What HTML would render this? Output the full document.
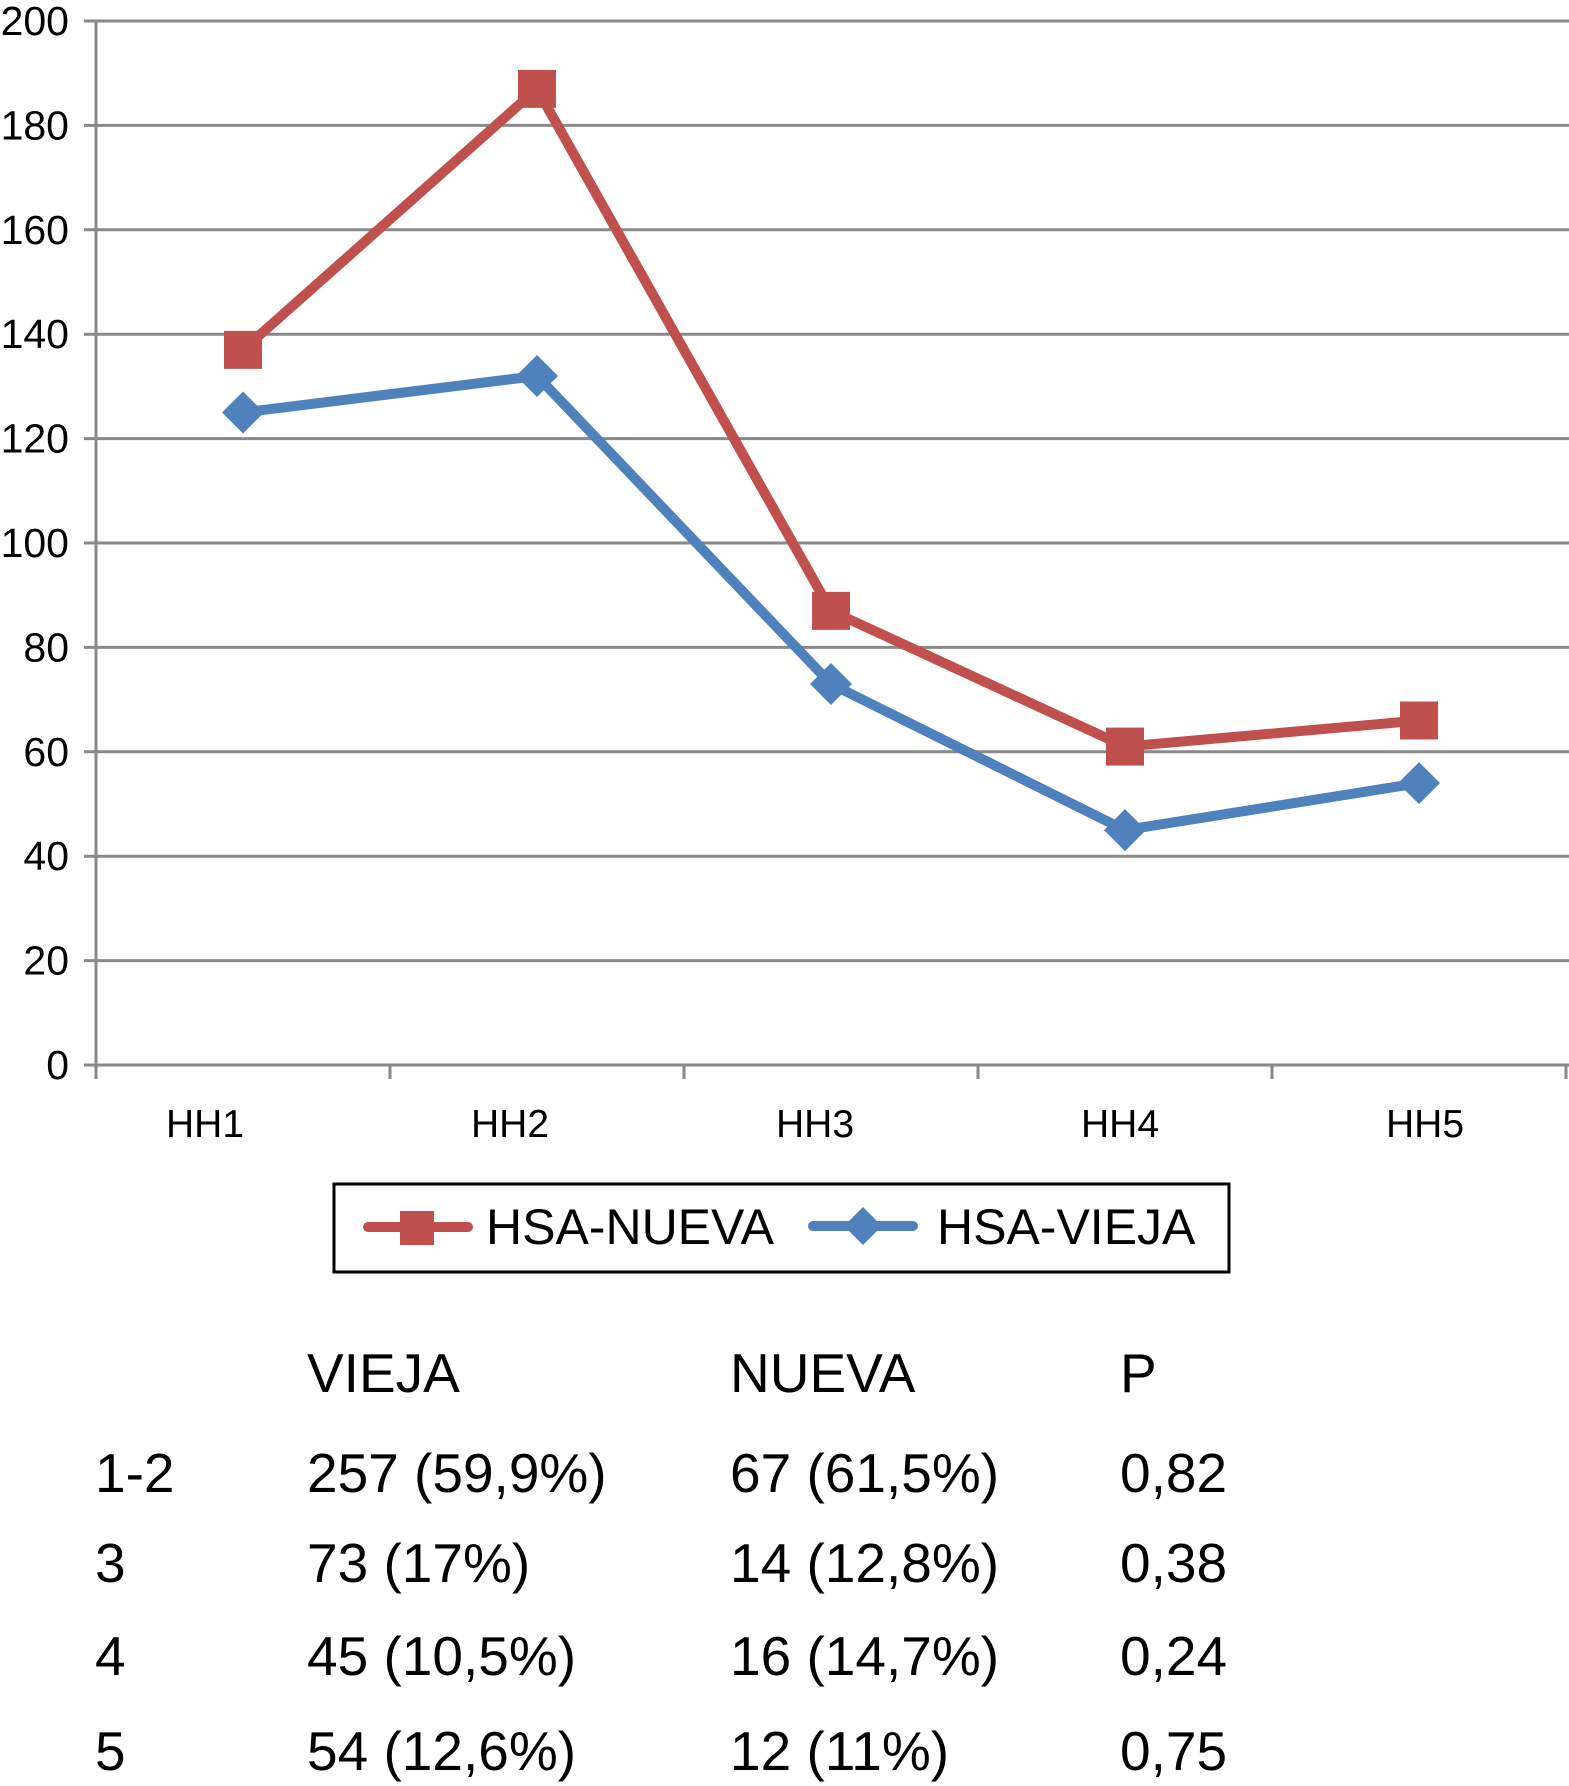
<!DOCTYPE html>
<html><head><meta charset="utf-8">
<style>
html,body{margin:0;padding:0;background:#fff;}
body{width:1569px;height:1786px;position:relative;overflow:hidden;font-family:"Liberation Sans",sans-serif;}
svg{position:absolute;left:0;top:0;}
</style></head>
<body>
<svg id="chart" width="1569" height="1786" viewBox="0 0 1569 1786"></svg>
<script>
const categories = ["HH1","HH2","HH3","HH4","HH5"];
const nuevaValues = [137,187,87,61,66];
const viejaValues = [125,132,73,45,54];
const yTicks = [0,20,40,60,80,100,120,140,160,180,200];
const tableHeader = ["VIEJA","NUEVA","P"];
const tableRows = [
  ["1-2","257 (59,9%)","67 (61,5%)","0,82"],
  ["3","73 (17%)","14 (12,8%)","0,38"],
  ["4","45 (10,5%)","16 (14,7%)","0,24"],
  ["5","54 (12,6%)","12 (11%)","0,75"]
];

const NS="http://www.w3.org/2000/svg";
const svg=document.getElementById('chart');
const X0=96,X1=1566,Y0=1065,Y1=21,YMAX=200;
const band=(X1-X0)/categories.length;
function xScale(i){return X0+band*(i+0.5);}
function yScale(v){return Y0-(v/YMAX)*(Y0-Y1);}
function mk(tag,attrs){const e=document.createElementNS(NS,tag);for(const k in attrs)e.setAttribute(k,attrs[k]);svg.appendChild(e);return e;}

yTicks.forEach(t=>{
  const y=yScale(t);
  const g=mk('line',{x1:X0-12,x2:X1+3,y1:y,y2:y,stroke:'#898989','stroke-width':3});
  
  
  const tx=mk('text',{x:69,y:y+14,'text-anchor':'end','font-size':41,fill:'#000'});
  tx.textContent=t;
  
  
});
const ya=mk('line',{x1:X0,x2:X0,y1:Y1,y2:Y0+14,stroke:'#898989','stroke-width':3});


for(let i=0;i<=categories.length;i++){
  const x=X0+band*i;
  const tk=mk('line',{x1:x,x2:x,y1:Y0,y2:Y0+14,stroke:'#898989','stroke-width':3});
  
  
}
categories.forEach((c,i)=>{
  const tx=mk('text',{x:xScale(i)-38+11*i,y:1137,'text-anchor':'middle','font-size':39,fill:'#000'});
  tx.textContent=c;
  
  
});

function series(vals,color,name,marker){
  const pts=vals.map((v,i)=>xScale(i)+','+yScale(v)).join(' ');
  const pl=mk('polyline',{points:pts,fill:'none',stroke:color,'stroke-width':10,'stroke-linejoin':'round'});
  
  
  vals.forEach((v,i)=>{
    const x=xScale(i),y=yScale(v);
    let m;
    if(marker==='square') m=mk('rect',{x:x-19,y:y-19,width:38,height:38,fill:color});
    else m=mk('polygon',{points:`${x},${y-21} ${x+21},${y} ${x},${y+21} ${x-21},${y}`,fill:color});
    
    
  });
}
series(viejaValues,'#4f81bd','hsa-vieja','diamond');
series(nuevaValues,'#c0504d','hsa-nueva','square');

const lb=mk('rect',{x:334,y:1184,width:895,height:88,fill:'#fff',stroke:'#000','stroke-width':3});


const l1=mk('line',{x1:368,x2:468,y1:1227,y2:1227,stroke:'#c0504d','stroke-width':10,'stroke-linecap':'round'});


const r1=mk('rect',{x:400,y:1211,width:34,height:34,fill:'#c0504d'});


const t1=mk('text',{x:486,y:1244,'font-size':50,fill:'#000'});t1.textContent='HSA-NUEVA';


const l2=mk('line',{x1:813,x2:913,y1:1226,y2:1226,stroke:'#4f81bd','stroke-width':10,'stroke-linecap':'round'});


const d2=mk('polygon',{points:'863,1207 882,1226 863,1245 844,1226',fill:'#4f81bd'});


const t2=mk('text',{x:937,y:1244,'font-size':50,fill:'#000'});t2.textContent='HSA-VIEJA';



const colX=[95,307,730,1120];
tableHeader.forEach((h,i)=>{
  const t=mk('text',{x:colX[i+1],y:1392,'font-size':55,fill:'#000'});t.textContent=h;
  
  
});
const rowY=[1492,1582,1675,1770];
tableRows.forEach((r,ri)=>{
  r.forEach((c,ci)=>{
    const t=mk('text',{x:colX[ci],y:rowY[ri],'font-size':55,fill:'#000'});t.textContent=c;
    
    
  });
});
</script>
</body></html>
